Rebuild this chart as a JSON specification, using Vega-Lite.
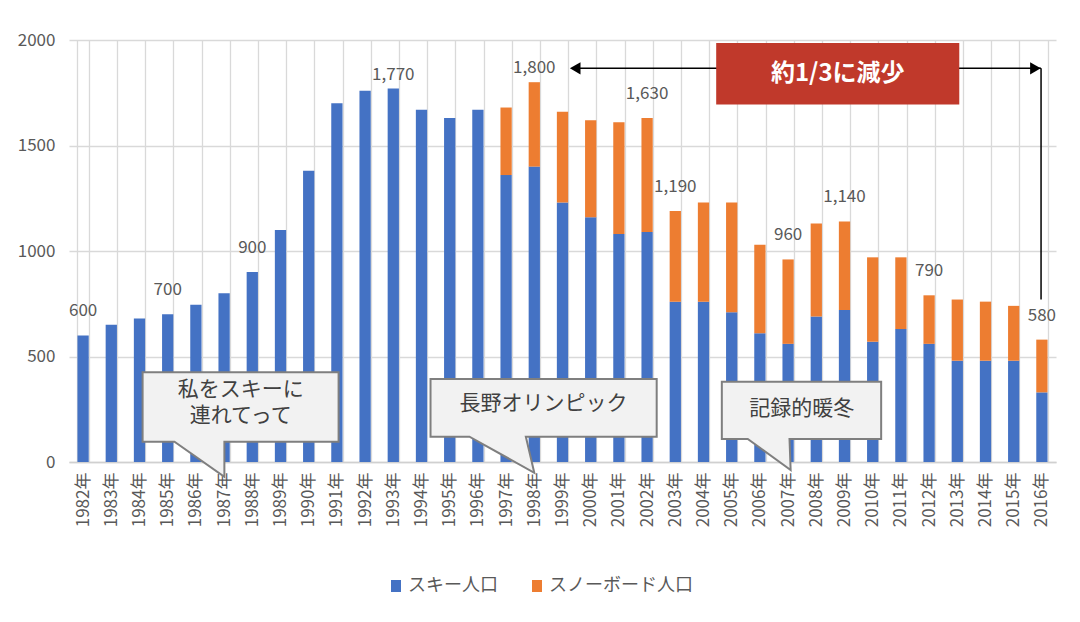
{
  "$schema": "https://vega.github.io/schema/vega-lite/v6.json",
  "description": "スキー人口とスノーボード人口の推移",
  "width": 987,
  "height": 422,
  "autosize": {"type": "none"},
  "padding": {"left": 69, "top": 40, "right": 24, "bottom": 160},
  "datasets": {
    "bars": [
      {"year": "1982年", "series": "スキー人口", "value": 600, "ord": 1},
      {"year": "1983年", "series": "スキー人口", "value": 650, "ord": 1},
      {"year": "1984年", "series": "スキー人口", "value": 680, "ord": 1},
      {"year": "1985年", "series": "スキー人口", "value": 700, "ord": 1},
      {"year": "1986年", "series": "スキー人口", "value": 745, "ord": 1},
      {"year": "1987年", "series": "スキー人口", "value": 800, "ord": 1},
      {"year": "1988年", "series": "スキー人口", "value": 900, "ord": 1},
      {"year": "1989年", "series": "スキー人口", "value": 1100, "ord": 1},
      {"year": "1990年", "series": "スキー人口", "value": 1380, "ord": 1},
      {"year": "1991年", "series": "スキー人口", "value": 1700, "ord": 1},
      {"year": "1992年", "series": "スキー人口", "value": 1760, "ord": 1},
      {"year": "1993年", "series": "スキー人口", "value": 1770, "ord": 1},
      {"year": "1994年", "series": "スキー人口", "value": 1670, "ord": 1},
      {"year": "1995年", "series": "スキー人口", "value": 1630, "ord": 1},
      {"year": "1996年", "series": "スキー人口", "value": 1670, "ord": 1},
      {"year": "1997年", "series": "スキー人口", "value": 1360, "ord": 1},
      {"year": "1998年", "series": "スキー人口", "value": 1400, "ord": 1},
      {"year": "1999年", "series": "スキー人口", "value": 1230, "ord": 1},
      {"year": "2000年", "series": "スキー人口", "value": 1160, "ord": 1},
      {"year": "2001年", "series": "スキー人口", "value": 1080, "ord": 1},
      {"year": "2002年", "series": "スキー人口", "value": 1090, "ord": 1},
      {"year": "2003年", "series": "スキー人口", "value": 760, "ord": 1},
      {"year": "2004年", "series": "スキー人口", "value": 760, "ord": 1},
      {"year": "2005年", "series": "スキー人口", "value": 710, "ord": 1},
      {"year": "2006年", "series": "スキー人口", "value": 610, "ord": 1},
      {"year": "2007年", "series": "スキー人口", "value": 560, "ord": 1},
      {"year": "2008年", "series": "スキー人口", "value": 690, "ord": 1},
      {"year": "2009年", "series": "スキー人口", "value": 720, "ord": 1},
      {"year": "2010年", "series": "スキー人口", "value": 570, "ord": 1},
      {"year": "2011年", "series": "スキー人口", "value": 630, "ord": 1},
      {"year": "2012年", "series": "スキー人口", "value": 560, "ord": 1},
      {"year": "2013年", "series": "スキー人口", "value": 480, "ord": 1},
      {"year": "2014年", "series": "スキー人口", "value": 480, "ord": 1},
      {"year": "2015年", "series": "スキー人口", "value": 480, "ord": 1},
      {"year": "2016年", "series": "スキー人口", "value": 330, "ord": 1},
      {"year": "1997年", "series": "スノーボード人口", "value": 320, "ord": 2},
      {"year": "1998年", "series": "スノーボード人口", "value": 400, "ord": 2},
      {"year": "1999年", "series": "スノーボード人口", "value": 430, "ord": 2},
      {"year": "2000年", "series": "スノーボード人口", "value": 460, "ord": 2},
      {"year": "2001年", "series": "スノーボード人口", "value": 530, "ord": 2},
      {"year": "2002年", "series": "スノーボード人口", "value": 540, "ord": 2},
      {"year": "2003年", "series": "スノーボード人口", "value": 430, "ord": 2},
      {"year": "2004年", "series": "スノーボード人口", "value": 470, "ord": 2},
      {"year": "2005年", "series": "スノーボード人口", "value": 520, "ord": 2},
      {"year": "2006年", "series": "スノーボード人口", "value": 420, "ord": 2},
      {"year": "2007年", "series": "スノーボード人口", "value": 400, "ord": 2},
      {"year": "2008年", "series": "スノーボード人口", "value": 440, "ord": 2},
      {"year": "2009年", "series": "スノーボード人口", "value": 420, "ord": 2},
      {"year": "2010年", "series": "スノーボード人口", "value": 400, "ord": 2},
      {"year": "2011年", "series": "スノーボード人口", "value": 340, "ord": 2},
      {"year": "2012年", "series": "スノーボード人口", "value": 230, "ord": 2},
      {"year": "2013年", "series": "スノーボード人口", "value": 290, "ord": 2},
      {"year": "2014年", "series": "スノーボード人口", "value": 280, "ord": 2},
      {"year": "2015年", "series": "スノーボード人口", "value": 260, "ord": 2},
      {"year": "2016年", "series": "スノーボード人口", "value": 250, "ord": 2}
    ],
    "labels": [
      {"year": "1982年", "total": 600, "peak": false},
      {"year": "1985年", "total": 700, "peak": false},
      {"year": "1988年", "total": 900, "peak": false},
      {"year": "1993年", "total": 1770, "peak": true},
      {"year": "1998年", "total": 1800, "peak": true},
      {"year": "2002年", "total": 1630, "peak": false},
      {"year": "2003年", "total": 1190, "peak": false},
      {"year": "2007年", "total": 960, "peak": false},
      {"year": "2009年", "total": 1140, "peak": false},
      {"year": "2012年", "total": 790, "peak": false},
      {"year": "2016年", "total": 580, "peak": false}
    ],
    "callouts": [
      {"c": 1, "o": 1, "px": 2.61, "py": 425},
      {"c": 1, "o": 2, "px": 9.56, "py": 425},
      {"c": 1, "o": 3, "px": 9.56, "py": 96},
      {"c": 1, "o": 4, "px": 5.51, "py": 96},
      {"c": 1, "o": 5, "px": 5.51, "py": -70},
      {"c": 1, "o": 6, "px": 3.74, "py": 96},
      {"c": 1, "o": 7, "px": 2.61, "py": 96},
      {"c": 2, "o": 1, "px": 12.82, "py": 393},
      {"c": 2, "o": 2, "px": 20.84, "py": 393},
      {"c": 2, "o": 3, "px": 20.84, "py": 120},
      {"c": 2, "o": 4, "px": 16.2, "py": 120},
      {"c": 2, "o": 5, "px": 16.5, "py": -51},
      {"c": 2, "o": 6, "px": 14.2, "py": 120},
      {"c": 2, "o": 7, "px": 12.82, "py": 120},
      {"c": 3, "o": 1, "px": 23.15, "py": 380},
      {"c": 3, "o": 2, "px": 28.8, "py": 380},
      {"c": 3, "o": 3, "px": 28.8, "py": 109},
      {"c": 3, "o": 4, "px": 25.55, "py": 109},
      {"c": 3, "o": 5, "px": 25.59, "py": -38},
      {"c": 3, "o": 6, "px": 24.07, "py": 109},
      {"c": 3, "o": 7, "px": 23.15, "py": 109}
    ],
    "calloutText": [
      {"px": 6.09, "py": 340, "text": "私をスキーに"},
      {"px": 6.09, "py": 218, "text": "連れてって"},
      {"px": 16.83, "py": 275, "text": "長野オリンピック"},
      {"px": 25.98, "py": 250, "text": "記録的暖冬"}
    ],
    "arrowLines": [
      {"px": 17.95, "px2": 34.47, "py": 1866, "py2": 1866},
      {"px": 34.47, "px2": 34.47, "py": 1866, "py2": 770}
    ],
    "arrowHeads": [
      {"px": 17.95, "py": 1866, "dir": "left"},
      {"px": 34.27, "py": 1866, "dir": "right"}
    ],
    "box": [
      {"px": 22.95, "px2": 31.57, "py": 1986, "py2": 1694, "cx": 27.26, "cy": 1840, "text": "約1/3に減少"}
    ]
  },
  "layer": [
    {
      "layer": [
        {
          "data": {"name": "bars"},
          "mark": {"type": "bar"},
          "encoding": {
            "x": {
              "field": "year",
              "type": "ordinal",
              "title": null,
              "scale": {"paddingInner": 0.6, "paddingOuter": 0.3},
              "axis": {
                "labelAngle": 270,
                "labelFontSize": 17,
                "labelPadding": 10,
                "grid": true,
                "tickBand": "extent",
                "domain": true,
                "domainColor": "#d0d0d0",
                "domainWidth": 1.3
              }
            },
            "y": {
              "field": "value",
              "type": "quantitative",
              "stack": "zero",
              "title": null,
              "scale": {"domain": [0, 2000], "nice": false},
              "axis": {"values": [0, 500, 1000, 1500, 2000], "format": "d", "grid": true}
            },
            "color": {
              "field": "series",
              "type": "nominal",
              "scale": {"domain": ["スキー人口", "スノーボード人口"], "range": ["#4472C4", "#ED7D31"]},
              "legend": {
                "orient": "none",
                "legendX": 318,
                "legendY": 537,
                "direction": "horizontal",
                "title": null,
                "labelFontSize": 18,
                "labelColor": "#595959",
                "symbolType": "M-0.83,-1L0.83,-1L0.83,1L-0.83,1Z",
                "symbolSize": 144,
                "symbolStrokeWidth": 0,
                "columnPadding": 30,
                "labelOffset": 3,
                "padding": 0
              }
            },
            "order": {"field": "ord"}
          }
        },
        {
          "data": {"name": "labels"},
          "transform": [{"filter": "!datum.peak"}],
          "mark": {"type": "text", "fontSize": 17, "color": "#595959", "baseline": "middle", "dy": -24},
          "encoding": {
            "x": {"field": "year", "type": "ordinal"},
            "y": {"field": "total", "type": "quantitative", "title": null, "scale": {"domain": [0, 2000], "nice": false}},
            "text": {"field": "total", "type": "quantitative", "format": ","}
          }
        },
        {
          "data": {"name": "labels"},
          "transform": [{"filter": "datum.peak"}],
          "mark": {"type": "text", "fontSize": 17, "color": "#595959", "baseline": "middle", "dy": -14},
          "encoding": {
            "x": {"field": "year", "type": "ordinal"},
            "y": {"field": "total", "type": "quantitative", "title": null, "scale": {"domain": [0, 2000], "nice": false}},
            "text": {"field": "total", "type": "quantitative", "format": ","}
          }
        }
      ]
    },
    {
      "layer": [
        {
          "data": {"name": "callouts"},
          "mark": {"type": "line", "interpolate": "linear-closed", "fill": "#f2f2f2", "stroke": "#7f7f7f", "strokeWidth": 2},
          "encoding": {
            "x": {"field": "px", "type": "quantitative", "axis": null, "scale": {"domain": [0, 35], "nice": false, "zero": false}},
            "y": {"field": "py", "type": "quantitative", "title": null, "scale": {"domain": [0, 2000], "nice": false}},
            "detail": {"field": "c"},
            "order": {"field": "o"}
          }
        },
        {
          "data": {"name": "calloutText"},
          "mark": {"type": "text", "fontSize": 21, "color": "#404040", "baseline": "middle"},
          "encoding": {
            "x": {"field": "px", "type": "quantitative", "axis": null, "scale": {"domain": [0, 35], "nice": false, "zero": false}},
            "y": {"field": "py", "type": "quantitative", "title": null, "scale": {"domain": [0, 2000], "nice": false}},
            "text": {"field": "text"}
          }
        },
        {
          "data": {"name": "arrowLines"},
          "mark": {"type": "rule", "color": "#000000", "strokeWidth": 1.5},
          "encoding": {
            "x": {"field": "px", "type": "quantitative", "axis": null, "scale": {"domain": [0, 35], "nice": false, "zero": false}},
            "x2": {"field": "px2"},
            "y": {"field": "py", "type": "quantitative", "title": null, "scale": {"domain": [0, 2000], "nice": false}},
            "y2": {"field": "py2"}
          }
        },
        {
          "data": {"name": "arrowHeads"},
          "mark": {"type": "point", "filled": true, "size": 150, "opacity": 1, "color": "#000000"},
          "encoding": {
            "x": {"field": "px", "type": "quantitative", "axis": null, "scale": {"domain": [0, 35], "nice": false, "zero": false}},
            "y": {"field": "py", "type": "quantitative", "title": null, "scale": {"domain": [0, 2000], "nice": false}},
            "shape": {"field": "dir", "type": "nominal", "scale": {"domain": ["left", "right"], "range": ["triangle-left", "triangle-right"]}, "legend": null}
          }
        },
        {
          "data": {"name": "box"},
          "mark": {"type": "rect", "color": "#C0392B"},
          "encoding": {
            "x": {"field": "px", "type": "quantitative", "axis": null, "scale": {"domain": [0, 35], "nice": false, "zero": false}},
            "x2": {"field": "px2"},
            "y": {"field": "py", "type": "quantitative", "title": null, "scale": {"domain": [0, 2000], "nice": false}},
            "y2": {"field": "py2"}
          }
        },
        {
          "data": {"name": "box"},
          "mark": {"type": "text", "fontSize": 24, "fontWeight": "bold", "color": "#ffffff", "baseline": "middle"},
          "encoding": {
            "x": {"field": "cx", "type": "quantitative", "axis": null, "scale": {"domain": [0, 35], "nice": false, "zero": false}},
            "y": {"field": "cy", "type": "quantitative", "title": null, "scale": {"domain": [0, 2000], "nice": false}},
            "text": {"field": "text"}
          }
        }
      ]
    }
  ],
  "resolve": {"scale": {"x": "independent"}, "axis": {"x": "independent"}},
  "config": {
    "font": "Noto Sans CJK JP",
    "view": {"stroke": null},
    "axis": {
      "gridColor": "#d9d9d9",
      "gridWidth": 1.3,
      "labelColor": "#595959",
      "labelFont": "Noto Sans CJK JP",
      "ticks": false,
      "domain": false
    },
    "axisY": {"labelFontSize": 17, "labelPadding": 14},
    "text": {"font": "Noto Sans CJK JP"}
  }
}
